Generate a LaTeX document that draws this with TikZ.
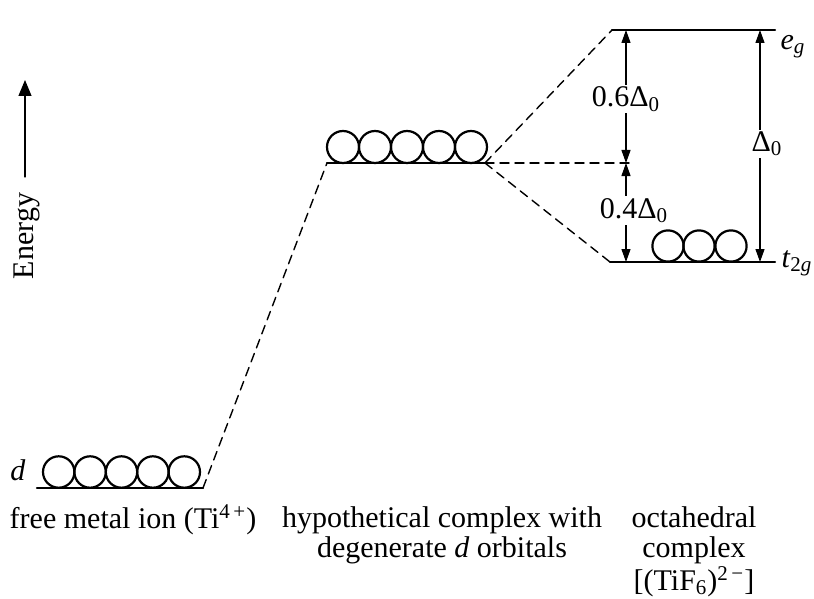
\documentclass[tikz,border=0pt]{standalone}
\usepackage{fontspec}
\setmainfont{Liberation Serif}
\usetikzlibrary{arrows.meta}
\tikzset{
	level/.style={line width=1.2pt},
	orbital/.style={line width=1.1pt},
	link/.style={line width=0.7pt, dash pattern=on 4.5pt off 3pt},
	gap/.style={<->, line width=0.6pt},
	lbl/.style={font=\fontsize{15}{15}\selectfont, inner sep=1pt},
}
\newcommand{\dsub}{\textsubscript{0}}
\begin{document}
\begin{tikzpicture}[x=0.5pt,y=-0.5pt,line join=round,line cap=round,>={Triangle[length=6.5pt,width=4.5pt]}]
	\useasboundingbox (0,0) rectangle (814,599);
	% energy axis
	\coordinate (etail) at (25,177);
	\coordinate (ehead) at (25,80);
	\draw[-{Triangle[length=8pt,width=6.5pt]}, line width=0.6pt] (etail) -- (ehead);
	\node[lbl, rotate=90] (energy) at (27,236) {Energy};
	% free ion
	\coordinate (fl) at (37,488);
	\coordinate (fr) at (203,488);
	\draw[level] (fl) -- (fr);
	\foreach \x in {58.7,90.1,121.5,152.9,184.3}
		\draw[orbital] (\x,472) circle[radius=7.85pt];
	\node[lbl, font=\fontsize{15}{15}\selectfont\itshape] (dlbl) at (18,470) {d};
	% degenerate level
	\coordinate (ml) at (327,163);
	\coordinate (mr) at (485,163);
	\draw[level] (ml) -- (mr);
	\foreach \x in {343,375,407,439,471}
		\draw[orbital] (\x,147) circle[radius=8pt];
	% split levels
	\coordinate (egl) at (612,30);
	\coordinate (egr) at (775,30);
	\coordinate (tl) at (610,262);
	\coordinate (tr) at (775,262);
	\draw[level] (egl) -- (egr);
	\draw[level] (tl) -- (tr);
	\foreach \x in {668,699,731}
		\draw[orbital] (\x,246) circle[radius=7.8pt];
	\node[lbl] (eg) at (793,47) {\textit{e}\textsubscript{\textit{g}}};
	\node[lbl] (t2g) at (797,263) {\textit{t}\textsubscript{2\textit{g}}};
	% dashed correlation lines
	\draw[link] (fr) -- (ml);
	\draw[link] (mr) -- (egl);
	\draw[link] (mr) -- (tl);
	\coordinate (bary) at (626,163);
	\coordinate (barend) at (635,163);
	\draw[link] (mr) -- (barend);
	% splitting arrows
	\coordinate (egtop) at (626,30);
	\coordinate (tbot) at (626,262);
	\draw[gap] (bary) -- node[lbl, fill=white, pos=0.48] (six) {0.6Δ\dsub} (egtop);
	\draw[gap] (bary) -- node[lbl, fill=white, xshift=4pt, pos=0.48] (four) {0.4Δ\dsub} (tbot);
	\coordinate (dtop) at (760,30);
	\coordinate (dbot) at (760,262);
	\draw[gap] (dtop) -- node[lbl, fill=white, xshift=3.5pt, pos=0.49] (delta) {Δ\dsub} (dbot);
	% captions
	\node[lbl] (freeion) at (133,520) {free metal ion (Ti\textsuperscript{4\,+})};
	\node[lbl, align=center] (hypo) at (442,535) {hypothetical complex with\\degenerate \textit{d} orbitals};
	\node[lbl, align=center] (octa) at (694,552) {octahedral\\complex\\{}[(TiF\textsubscript{6})\textsuperscript{2\,−}]};
\end{tikzpicture}
\end{document}
